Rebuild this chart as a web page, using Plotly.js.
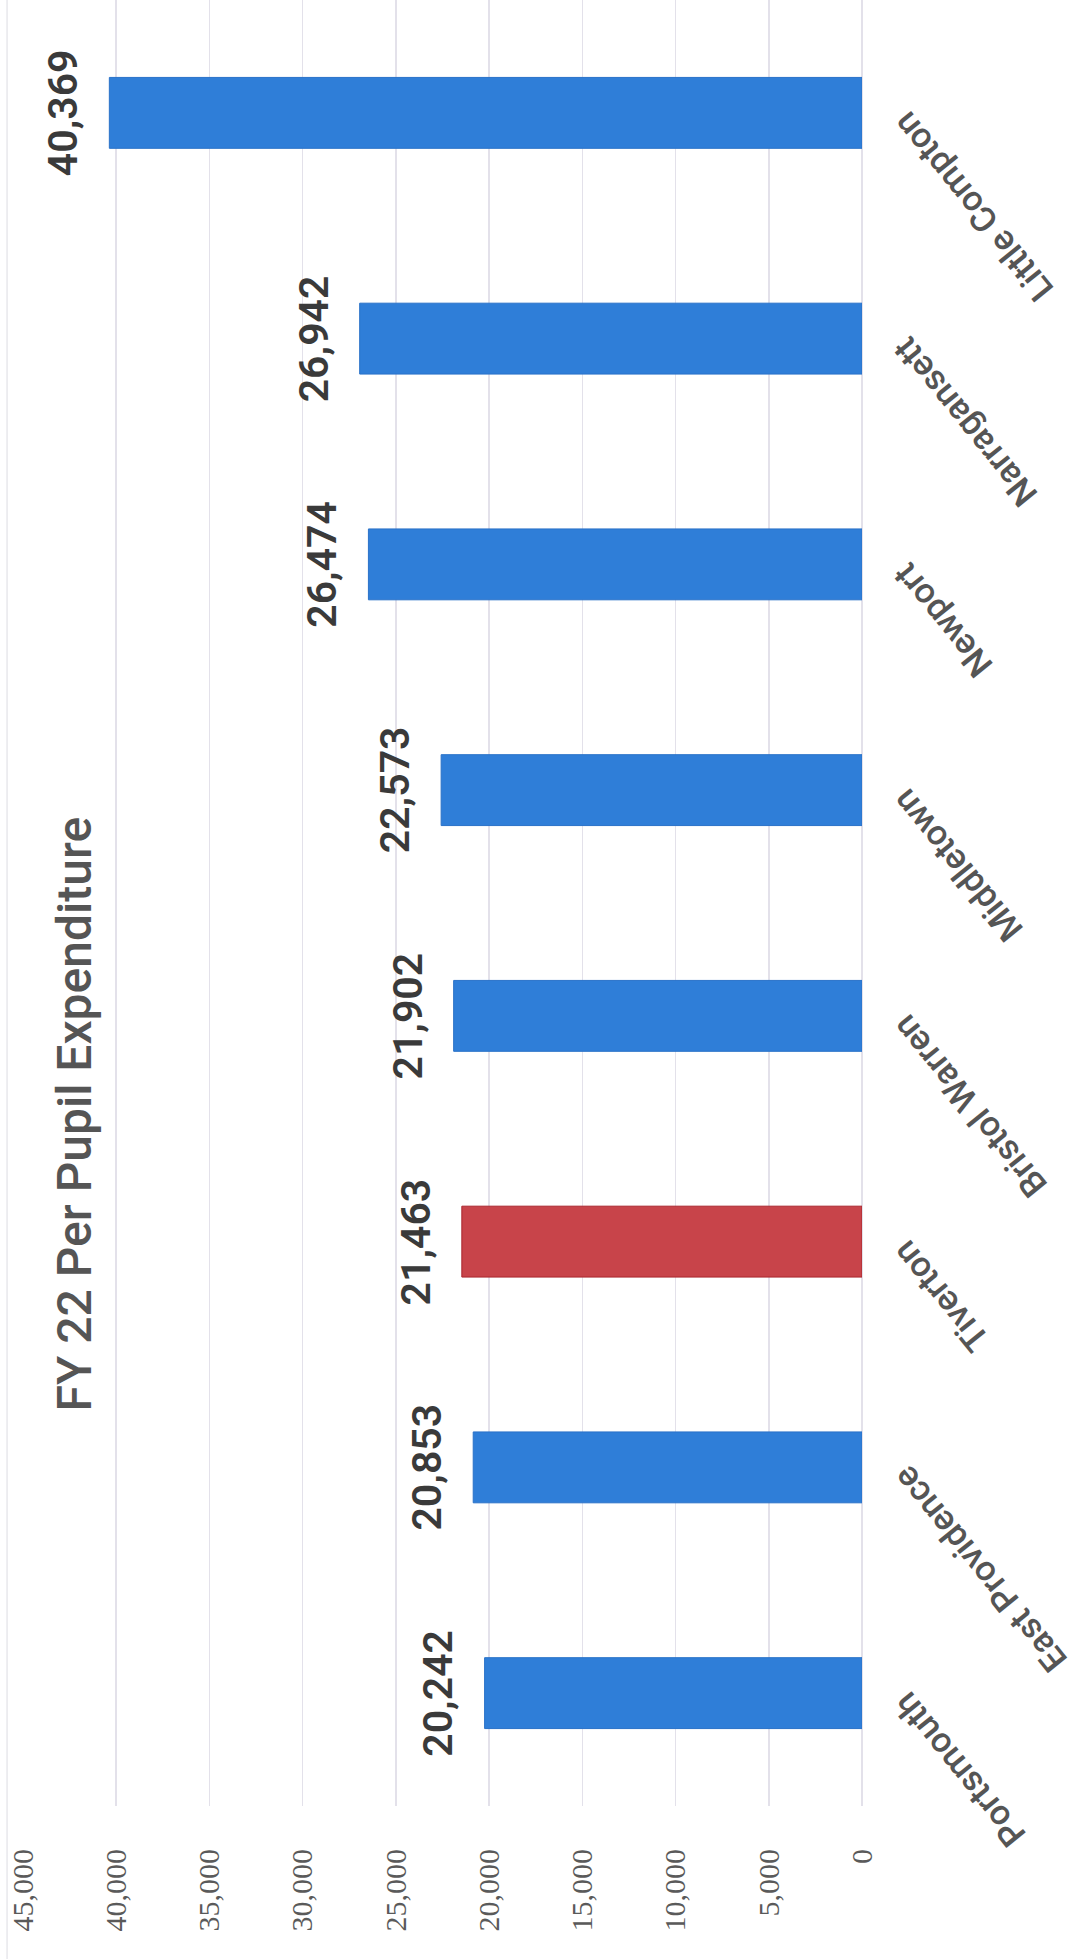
<!DOCTYPE html>
<html>
<head>
<meta charset="utf-8">
<script src="https://cdn.plot.ly/plotly-3.0.1.min.js"></script>
<style>
  html, body { margin: 0; padding: 0; background: #ffffff; }
  #chart { width: 1081px; height: 1959px; }
</style>
</head>
<body>
<div id="chart"></div>
<script>
// Data (bottom to top on the category axis)
const districts = ["Portsmouth", "East Providence", "Tiverton", "Bristol Warren",
                   "Middletown", "Newport", "Narragansett", "Little Compton"];
const perPupil = [20242, 20853, 21463, 21902, 22573, 26474, 26942, 40369];
const highlightDistrict = "Tiverton";
const chartTitle = "FY 22 Per Pupil Expenditure";

const BLUE = "#2F7ED8";
const RED = "#C8444A";

const barColors = districts.map(d => d === highlightDistrict ? RED : BLUE);
const barLines = districts.map(d => d === highlightDistrict ? "#A9262D" : "#2A72C8");

const trace = {
  type: "bar",
  orientation: "h",
  y: districts,
  x: perPupil,
  marker: { color: barColors, line: { color: barLines, width: 1 } },
  hoverinfo: "skip",
  showlegend: false
};

const valueLabels = districts.map((d, i) => ({
  xref: "x", yref: "y",
  x: perPupil[i], y: d,
  text: perPupil[i].toLocaleString("en-US"),
  textangle: -90,
  xanchor: "right", yanchor: "middle",
  xshift: -20,
  showarrow: false,
  font: { family: "Roboto, sans-serif", size: 41, weight: 600, color: "#3a3a3a" }
}));

const categoryLabels = districts.map(d => ({
  xref: "paper", yref: "y",
  x: 1, y: d,
  text: d,
  textangle: -129,
  xanchor: "left", yanchor: "top",
  xshift: 20, yshift: 12,
  showarrow: false,
  font: { family: "Roboto, sans-serif", size: 35, weight: 500, color: "#555555" }
}));

const titleAnn = {
  xref: "paper", yref: "paper",
  x: 0.061, y: 0.383,
  text: chartTitle,
  textangle: -90,
  xanchor: "center", yanchor: "middle",
  showarrow: false,
  font: { family: "Roboto, sans-serif", size: 48, weight: 500, color: "#555555" }
};

const layout = {
  width: 1081, height: 1959,
  margin: { l: 23, r: 219, t: 0, b: 153, pad: 0 },
  paper_bgcolor: "#ffffff",
  plot_bgcolor: "#ffffff",
  bargap: 0.686,
  xaxis: {
    range: [45000, 0],
    tick0: 0, dtick: 5000,
    tickformat: ",d",
    tickangle: -90,
    showgrid: true, gridcolor: "#E3E1EA", gridwidth: 1.5,
    zeroline: true, zerolinecolor: "#E3E1EA", zerolinewidth: 1.5,
    showline: false,
    ticks: "", ticklen: 0,
    ticklabelstandoff: 36,
    tickfont: { family: "Liberation Serif", size: 30, color: "#5a5a5a" },
    fixedrange: true
  },
  yaxis: {
    type: "category",
    range: [-0.5, districts.length - 0.5],
    showticklabels: false,
    showgrid: false, zeroline: false, showline: false,
    ticks: "",
    fixedrange: true
  },
  shapes: [{
    type: "line", xref: "paper", yref: "paper",
    x0: -0.019, x1: -0.019, y0: -0.085, y1: 1,
    line: { color: "#E8E8EC", width: 1.5 }
  }],
  annotations: [titleAnn, ...valueLabels, ...categoryLabels]
};

Plotly.newPlot("chart", [trace], layout, { displayModeBar: false, staticPlot: true });
</script>
</body>
</html>
